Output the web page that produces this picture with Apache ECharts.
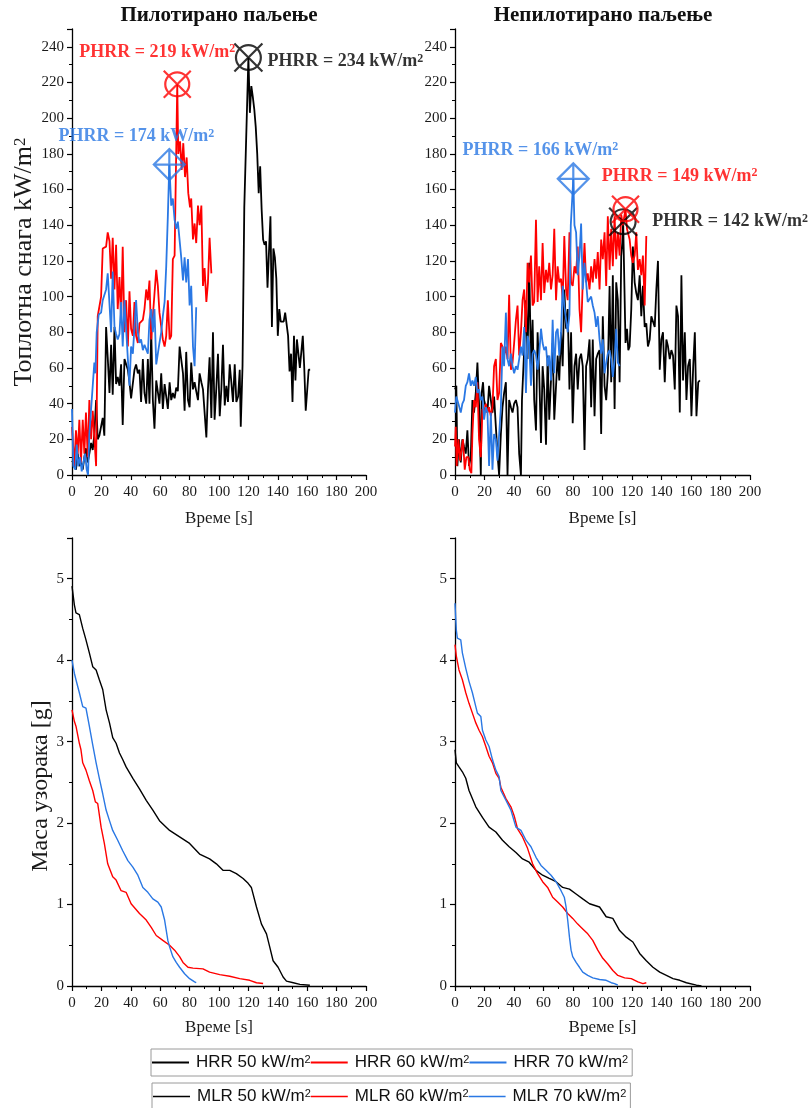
<!DOCTYPE html>
<html><head><meta charset="utf-8">
<script src="https://cdn.jsdelivr.net/npm/echarts@6/dist/echarts.min.js"></script>
<style>html,body{margin:0;padding:0;background:#fff}#c{width:810px;height:1108px}</style>
</head><body><div id="c"></div>
<script>
// ---------- DATA ----------
const panelTitles = ['Пилотирано паљење', 'Непилотирано паљење'];
const xAxisName = 'Време [s]';
const yNameHrr = 'Топлотна снага kW/m{s|2}';
const yNameMass = 'Маса узорака [g]';
const hrrNames = ['HRR 50 kW/m2', 'HRR 60 kW/m2', 'HRR 70 kW/m2'];
const mlrNames = ['MLR 50 kW/m2', 'MLR 60 kW/m2', 'MLR 70 kW/m2'];

// HRR, piloted ignition  [time s, kW/m2]
const hrr50Pilot = [[0,8],[1.6,6],[2.7,3],[3.9,12],[5,5],[6.1,7],[7.3,3],[8.4,10],[9.5,15],[10.7,7],[11.8,12],[13,18],[14.1,14],[15.2,23],[16.4,42],[17.5,20],[18.6,22],[19.8,23],[20.9,32],[22,22],[23.2,83],[24.3,66],[25.5,46],[26.6,73],[27.7,45],[28.9,83],[30,51],[31.1,55],[32.3,50],[33.4,62],[34.5,28],[35.7,65],[36.8,66],[38,59],[39.1,52],[40.2,43],[41.4,44],[42.5,59],[43.6,62],[44.8,57],[45.9,59],[47,41],[48.2,65],[49.3,46],[50.5,40],[51.6,65],[52.7,40],[53.9,80],[55,42],[56.1,26],[57.3,53],[58.4,54],[59.5,40],[60.7,57],[61.8,37],[63,51],[64.1,51],[65.2,37],[66.4,52],[67.5,42],[68.6,46],[69.8,43],[70.9,49],[72,47],[73.2,72],[74.3,71],[75.5,57],[76.6,36],[77.7,69],[78.9,42],[80,38],[81.1,63],[82.3,48],[83.4,52],[84.5,47],[85.7,42],[86.8,57],[88,52],[89.1,48],[90.2,47],[91.4,21],[92.5,48],[93.6,66],[94.8,32],[95.9,80],[97,31],[98.2,49],[99.3,68],[100.5,33],[101.6,48],[102.7,73],[103.9,39],[105,50],[106.1,41],[107.3,62],[108.4,52],[109.5,41],[110.7,62],[111.8,41],[113,44],[114.1,59],[114.8,27],[116,61],[117.2,150],[120,234],[121,203],[122,218],[123,212],[124,205],[125,195],[126,180],[127,158],[128,173],[129,149],[130,132],[131,129],[132,131],[133,105],[134,106],[135,145],[136,83],[137,127],[138,122],[139,110],[140,78],[141,93],[142,86],[144,86],[145,91],[147,78],[148,58],[149,68],[150,41],[151,78],[152,53],[153,76],[155,60],[156,61],[157,78],[158,60],[159,36],[161,59],[162,59]];
const hrr60Pilot = [[0,27],[1.6,5],[2.7,25],[3.9,12],[5,31],[6.1,7],[7.3,31],[8.4,12],[9.5,35],[10.7,10],[11.8,42],[13,20],[14.1,36],[15.2,35],[16.4,5],[17.5,89],[18.6,90],[19.8,100],[20.9,127],[22,127],[23.2,128],[24.3,136],[25.5,131],[26.6,110],[27.7,133],[28.9,104],[30,129],[31.1,93],[32.3,111],[33.4,87],[34.5,128],[35.7,80],[36.8,98],[38,72],[39.1,103],[40.2,82],[41.4,78],[42.5,97],[43.6,78],[44.8,74],[45.9,85],[47,85],[48.2,87],[49.3,93],[50.5,104],[51.6,98],[52.7,109],[53.9,76],[55,89],[56.1,88],[57.3,115],[58.4,106],[59.5,91],[60.7,91],[61.8,76],[63,72],[64.1,78],[65.2,98],[66.4,76],[67.5,78],[68.6,121],[69.8,123],[71.6,219],[72.3,180],[73.5,187],[74.6,171],[75.7,186],[76.9,167],[78,178],[79.1,158],[80.3,150],[81.1,155],[82.3,132],[83.4,141],[84.5,130],[85.7,151],[86.8,140],[88,151],[89.1,106],[90.2,116],[91.4,97],[92.5,108],[93.6,133],[94.8,113]];
const hrr70Pilot = [[0,37],[0.9,5],[2.3,3],[3.2,17],[4.3,5],[5.5,10],[6.6,2],[7.7,1],[8.9,12],[10,3],[10.9,0],[11.8,23],[13,37],[14.1,50],[15.2,63],[15.9,57],[16.8,80],[18.2,90],[19.8,91],[20.9,98],[22,97],[23.2,104],[24.3,113],[25.5,114],[26.6,80],[27.7,114],[28.9,83],[30,79],[31.1,76],[32.3,79],[33.4,97],[34.5,72],[35.7,98],[36.8,98],[38,65],[39.1,50],[40.2,72],[41.4,68],[42.5,83],[43.6,98],[44.8,80],[45.9,74],[47,76],[48.2,70],[49.3,73],[50.5,72],[51.6,68],[52.7,87],[53.9,93],[55,80],[56.1,93],[57.3,62],[58.4,61],[59.5,74],[60.7,80],[61.8,89],[63,97],[64.1,117],[65.2,145],[66.2,174],[67.5,151],[68.6,155],[69.8,143],[70.9,138],[72,142],[73.2,141],[74.3,122],[75.5,109],[76.6,122],[77.7,108],[78.9,121],[80,95],[81.1,106],[82.3,72],[83.4,61],[84.5,94]];

// HRR, non-piloted ignition
const hrr50Non = [[0,48],[0.9,50],[1.6,5],[2.7,20],[3.9,7],[5,20],[6.1,16],[7.3,12],[8.4,25],[9.5,5],[10.7,10],[11.8,42],[12.9,35],[14.1,46],[15.2,63],[16.3,40],[17.5,0],[18.1,46],[19,52],[19.7,42],[20.9,38],[22,35],[23.1,50],[24.3,42],[25.4,35],[26.5,44],[27.7,27],[28.8,12],[29.9,0],[31.1,23],[32.2,38],[33.3,46],[34.5,52],[35.6,0],[36.7,42],[37.9,38],[39,35],[40.1,40],[41.3,42],[42.4,38],[43.5,12],[44.7,0],[45.4,42],[46.9,70],[48.1,98],[49.2,65],[50.3,119],[51.5,61],[52.6,87],[53.7,42],[54.9,25],[56,80],[57.1,57],[58.3,18],[59.4,61],[60.5,48],[61.7,17],[62.8,67],[63.9,31],[65.1,31],[66.2,74],[67.3,31],[68.5,50],[69.6,67],[70.7,53],[71.9,80],[73,61],[74.1,104],[75.3,82],[76.4,93],[77.6,48],[78.7,80],[79.8,29],[81,61],[82.1,68],[83.2,48],[84.4,65],[85.5,68],[86.6,61],[87.8,14],[88.9,61],[90,65],[91.2,76],[92.3,38],[93.4,76],[94.6,33],[95.7,65],[96.8,68],[98,70],[99.1,23],[100.2,89],[101.4,50],[102.5,42],[103.6,57],[104.8,106],[105.9,52],[107,112],[108.2,37],[109.3,108],[110.4,98],[111.6,52],[112.7,123],[113.4,130],[114,142],[115.6,74],[116.6,82],[117.5,70],[118.4,72],[119.5,93],[120.6,128],[121.8,108],[122.9,102],[124,98],[125.2,112],[126.3,89],[127.4,106],[128.6,83],[129.7,85],[130.8,72],[132,76],[133.1,89],[134.2,89],[135.4,83],[136.5,104],[137.6,120],[138.8,59],[139.9,76],[141,80],[142.2,52],[143.3,76],[144.4,72],[145.6,65],[146.7,70],[147.8,67],[149,48],[150.1,95],[151.2,89],[152.4,35],[153.5,112],[154.6,53],[155.8,80],[156.9,42],[158,61],[159.2,65],[160.3,33],[161.5,61],[162.6,80],[163.7,33],[164.9,52],[166,53]];
const hrr60Non = [[0,16],[0.5,27],[1.1,5],[2.3,20],[3.4,8],[4.5,7],[5.4,20],[6.6,3],[7.7,10],[9.1,10],[10,3],[11.1,1],[11.8,23],[12.9,42],[14.1,38],[15.2,52],[16.3,20],[17.5,10],[18.6,37],[19.7,35],[20.9,40],[22,35],[23.1,38],[24.3,33],[25.4,38],[26.5,61],[27.7,65],[28.8,42],[29.9,46],[31.1,74],[32.2,72],[33.3,67],[34.5,72],[35.6,65],[36.7,101],[37.9,59],[39,63],[40.1,74],[41.3,87],[42.4,95],[43.5,67],[44.7,80],[45.8,98],[46.9,104],[48.1,80],[49.2,119],[50.3,108],[51.5,123],[52.6,95],[53.7,97],[54.9,143],[56,97],[57.1,117],[58.3,98],[59.4,130],[60.5,102],[61.7,115],[62.8,108],[63.9,119],[65.1,104],[66.2,112],[67.3,138],[68.5,98],[69.6,117],[70.7,108],[71.9,110],[73,98],[74.1,134],[75.3,104],[76.4,98],[77.6,136],[78.7,108],[79.8,106],[81,117],[82.1,113],[83.2,128],[84.4,93],[85.5,80],[86.6,108],[87.8,130],[88.9,108],[90,113],[91.2,104],[92.3,117],[93.4,108],[94.6,121],[95.7,110],[96.8,125],[98,104],[99.1,132],[100.2,121],[101.4,136],[102.5,106],[103.6,145],[104.8,115],[105.9,138],[107,117],[108.2,145],[109.3,121],[110.4,136],[111.6,123],[112.7,146],[113.8,140],[115.6,149],[116.6,138],[117.2,136],[118.4,132],[119.5,123],[120.6,119],[121.8,123],[122.9,136],[124,115],[125.2,121],[126.3,112],[127.4,123],[128.6,95],[129.7,134]];
const hrr70Non = [[0,35],[0.9,44],[2.3,40],[3.9,35],[5,40],[6.1,42],[7.3,50],[8.4,52],[9.5,57],[10.7,50],[11.8,53],[12.9,50],[14.1,55],[15.2,46],[16.3,48],[17.5,42],[18.6,44],[19.7,31],[20.9,38],[22,35],[23.1,5],[24.3,35],[25.4,3],[26.5,23],[27.7,20],[28.8,8],[29.9,7],[31.1,38],[32.2,72],[33.3,61],[34.5,91],[35.6,65],[36.7,61],[37.9,68],[39,61],[40.1,57],[41.3,61],[42.4,59],[43.5,65],[44.7,72],[45.8,67],[46.9,83],[48.1,46],[49.2,78],[50.3,74],[51.5,50],[52.6,68],[53.7,70],[54.9,67],[56,59],[57.1,68],[58.3,82],[59.4,74],[60.5,70],[61.7,72],[62.8,61],[63.9,67],[65.1,53],[66.2,87],[67.3,57],[68.5,80],[69.6,82],[70.7,67],[71.9,80],[73,106],[74.1,95],[75.3,87],[76.4,80],[77.6,90],[78.5,140],[80.2,166],[81,140],[82.1,136],[83.2,112],[84.4,123],[85.5,141],[86.6,104],[87.8,119],[88.9,108],[90,97],[91.2,97],[92.3,100],[93.4,95],[94.6,91],[95.7,83],[96.8,89],[98,76],[99.1,68],[100.2,76],[101.4,57],[102.5,63],[103.6,68],[104.8,70],[105.9,65],[107,55],[108.2,65],[109.3,82],[110.4,63],[111.6,61]];

// Sample mass, piloted ignition  [time s, g]
const mlr50Pilot = [[0,4.91],[1.6,4.68],[2.7,4.58],[5,4.56],[6.1,4.54],[7.3,4.39],[9.5,4.25],[11.8,4.09],[14.1,3.92],[16.4,3.88],[18.6,3.76],[20.9,3.64],[23.2,3.39],[25.5,3.23],[27.7,3.05],[30,2.98],[32.3,2.86],[34.5,2.78],[36.8,2.69],[39.1,2.62],[41.4,2.55],[45.9,2.42],[50.5,2.28],[55,2.16],[59.5,2.03],[66.4,1.91],[73.2,1.83],[80,1.75],[86.8,1.62],[93.6,1.56],[98.2,1.5],[102.7,1.42],[107.3,1.42],[111.8,1.38],[116.4,1.32],[119.8,1.26],[122,1.21],[125.5,0.97],[128.9,0.76],[132.3,0.64],[134.5,0.48],[136.8,0.31],[140.2,0.23],[143.6,0.11],[145.9,0.06],[150.5,0.04],[155,0.02],[161.8,0.01]];
const mlr60Pilot = [[0,3.39],[1.6,3.25],[2.7,3.19],[5,2.98],[6.1,2.9],[7.3,2.74],[9.5,2.65],[11.8,2.52],[14.1,2.4],[15.9,2.26],[17.5,2.24],[19.8,1.95],[22,1.75],[24.3,1.5],[27.7,1.34],[30,1.3],[33.4,1.17],[36.8,1.15],[40.2,1.01],[45.9,0.89],[50.5,0.81],[53.9,0.72],[57.3,0.62],[61.8,0.56],[66.4,0.5],[69.8,0.44],[73.2,0.36],[75.5,0.29],[78.9,0.23],[82.3,0.22],[89.1,0.21],[93.6,0.17],[100.5,0.14],[107.3,0.12],[114.1,0.09],[120.9,0.07],[125.5,0.04],[130,0.03]];
const mlr70Pilot = [[0,4.0],[1.6,3.84],[2.7,3.76],[3.9,3.76],[5,3.6],[6.1,3.58],[7.3,3.43],[9.5,3.41],[11.8,3.19],[14.1,2.96],[16.4,2.74],[18.6,2.55],[20.9,2.36],[23.2,2.16],[25.5,2.03],[27.7,1.91],[31.1,1.79],[34.5,1.66],[38,1.54],[41.4,1.46],[44.8,1.36],[48.2,1.21],[51.6,1.15],[55,1.07],[58.4,1.03],[60.7,0.97],[63,0.81],[65.2,0.56],[66.4,0.48],[68.6,0.36],[70.9,0.29],[73.2,0.23],[76.6,0.15],[80,0.09],[83.4,0.05],[84.5,0.04]];

// Sample mass, non-piloted ignition
const mlr50Non = [[0,2.9],[0.9,2.74],[2.7,2.69],[5,2.63],[7.3,2.55],[9.5,2.4],[14.1,2.2],[18.6,2.07],[23.1,1.95],[27.7,1.89],[32.2,1.79],[36.7,1.71],[41.3,1.64],[45.8,1.56],[50.3,1.52],[54.9,1.42],[59.4,1.36],[63.9,1.32],[68.5,1.28],[73,1.21],[77.6,1.19],[82.1,1.13],[86.6,1.07],[91.2,1.01],[98,0.97],[102.5,0.85],[107,0.83],[111.6,0.68],[116.1,0.6],[120.6,0.54],[125.2,0.4],[129.7,0.31],[134.2,0.23],[138.8,0.17],[143.3,0.13],[147.8,0.09],[152.4,0.07],[156.9,0.04],[163.7,0.01],[167.1,0]];
const mlr60Non = [[0,4.19],[0.9,4.05],[2.7,3.88],[5,3.76],[7.3,3.6],[9.5,3.47],[11.8,3.35],[14.1,3.23],[16.3,3.14],[18.6,3.06],[20.9,2.94],[23.1,2.82],[25.4,2.74],[27.7,2.61],[29.9,2.55],[31.1,2.44],[34.5,2.3],[37.9,2.2],[40.1,2.09],[42.4,1.93],[45.8,1.83],[49.2,1.69],[52.6,1.5],[56,1.38],[59.4,1.28],[62.8,1.21],[66.2,1.09],[69.6,1.03],[73,0.97],[76.4,0.89],[79.8,0.83],[83.2,0.76],[86.6,0.7],[90,0.64],[93.4,0.56],[96.8,0.44],[100.2,0.34],[103.6,0.27],[107,0.19],[110.4,0.13],[115,0.1],[119.5,0.09],[124,0.05],[127.4,0.03],[129.7,0.04]];
const mlr70Non = [[0,4.7],[0.9,4.37],[1.6,4.27],[3.9,4.25],[5,4.09],[7.3,3.9],[9.5,3.74],[11.8,3.6],[14.1,3.43],[15.2,3.35],[17.5,3.31],[18.6,3.14],[20.9,3.02],[23.1,2.94],[25.4,2.78],[27.7,2.65],[29.9,2.57],[31.1,2.4],[34.5,2.28],[37.9,2.16],[41.3,1.95],[44.7,1.91],[48.1,1.79],[51.5,1.71],[54.9,1.58],[58.3,1.48],[61.7,1.42],[65.1,1.36],[68.5,1.28],[71.9,1.17],[74.1,1.09],[75.3,0.97],[76.4,0.81],[77.6,0.6],[78.7,0.44],[79.8,0.36],[82.1,0.29],[84.4,0.23],[86.6,0.17],[90,0.13],[93.4,0.1],[98,0.08],[102.5,0.07],[105.9,0.04],[108.2,0.03],[110.4,0.01]];

// Peak HRR markers: order 50, 60, 70 kW/m2
const peakPilotT = [120, 71.6, 66.2];
const peakPilotV = [234, 219, 174];
const peakNonT = [114, 115.6, 80.2];
const peakNonV = [142, 149, 166];

// ---------- STYLE ----------
const SERIF = 'Liberation Serif';
const SANS = 'Liberation Sans';
const colors = ['#000000', '#ff0000', '#2a78e4'];
const CIRCLE_X = 'path://M-12,0A12,12,0,1,1,12,0A12,12,0,1,1,-12,0ZM-13.5,-13.5L13.5,13.5M13.5,-13.5L-13.5,13.5';
const DIAMOND_PLUS = 'path://M0,-15L15,0L0,15L-15,0ZM0,-15L0,15M-15,0L15,0';
const peakSymbols = [CIRCLE_X, CIRCLE_X, DIAMOND_PLUS];
const peakSizes = [[28, 28], [27, 27], [31, 31]];
const peakOffsets = [
  [[97, 4], [-20, -32], [-33, -28]],
  [[107, 0], [54, -33], [-33, -29]]
];

const grids = [
  {left: 72, top: 29, width: 294, height: 446},
  {left: 455, top: 29, width: 295, height: 446},
  {left: 72, top: 538, width: 294, height: 448},
  {left: 455, top: 538, width: 295, height: 448}
].map(g => Object.assign({outerBoundsMode: 'none', containLabel: false}, g));

function commonAxis() {
  return {
    axisLine: {show: true, lineStyle: {color: '#000', width: 1.3}},
    axisTick: {show: true, inside: false, length: 5, lineStyle: {color: '#000', width: 1.2}},
    minorTick: {show: true, splitNumber: 2, length: 3, lineStyle: {color: '#000', width: 1}},
    splitLine: {show: false},
    minorSplitLine: {show: false},
    axisLabel: {fontFamily: SERIF, fontSize: 15, color: '#1a1a1a', margin: 8}
  };
}

const xAxes = [0, 1, 2, 3].map(i => Object.assign(commonAxis(), {
  type: 'value', gridIndex: i, min: 0, max: 200, interval: 20,
  name: xAxisName, nameLocation: 'middle', nameGap: i < 2 ? 35 : 33,
  nameTextStyle: {fontFamily: SERIF, fontSize: 17, color: '#1a1a1a'}
}));
xAxes.forEach(a => { a.axisLabel.margin = 10; });

const yAxes = [0, 1, 2, 3].map(i => {
  const top = i < 2;
  const a = Object.assign(commonAxis(), {
    type: 'value', gridIndex: i, min: 0,
    max: top ? 250 : 5.5, interval: top ? 20 : 1
  });
  a.axisLabel.showMaxLabel = false;
  if (i === 0) {
    a.name = yNameHrr; a.nameLocation = 'middle'; a.nameGap = 34;
    a.nameTextStyle = {fontFamily: SERIF, fontSize: 26, color: '#1a1a1a', padding: [0, 20, 0, 0],
      rich: {s: {fontFamily: SERIF, fontSize: 17, verticalAlign: 'top', color: '#1a1a1a'}}};
  }
  if (i === 2) {
    a.name = yNameMass; a.nameLocation = 'middle'; a.nameGap = 16;
    a.nameTextStyle = {fontFamily: SERIF, fontSize: 24, color: '#1a1a1a', padding: [0, 48, 0, 0]};
  }
  return a;
});

const series = [];
function addLines(names, datasets, gi, width) {
  datasets.forEach((d, k) => {
    series.push({
      type: 'line', name: names[k], xAxisIndex: gi, yAxisIndex: gi, data: d,
      symbol: 'none', showSymbol: false, color: colors[k],
      lineStyle: {color: colors[k], width: width}, z: 2 + k,
      emphasis: {disabled: true}, silent: true
    });
  });
}
addLines(hrrNames, [hrr50Pilot, hrr60Pilot, hrr70Pilot], 0, 1.8);
addLines(hrrNames, [hrr50Non, hrr60Non, hrr70Non], 1, 1.8);
addLines(mlrNames, [mlr50Pilot, mlr60Pilot, mlr70Pilot], 2, 1.4);
addLines(mlrNames, [mlr50Non, mlr60Non, mlr70Non], 3, 1.4);

function addPeaks(ts, vs, gi) {
  ts.forEach((t, k) => {
    series.push({
      type: 'scatter', xAxisIndex: gi, yAxisIndex: gi, data: [[t, vs[k]]],
      symbol: peakSymbols[k], symbolSize: peakSizes[k], z: 10,
      itemStyle: {color: 'transparent', borderColor: colors[k], borderWidth: 2.2},
      label: {
        show: true, position: 'inside', offset: peakOffsets[gi][k],
        formatter: p => 'PHRR = ' + p.value[1] + ' kW/m{s|2}',
        fontFamily: SERIF, fontWeight: 'bold', fontSize: 18, color: colors[k],
        rich: {s: {fontFamily: SERIF, fontWeight: 'bold', fontSize: 12, verticalAlign: 'top', color: colors[k]}}
      },
      emphasis: {disabled: true}, silent: true
    });
  });
}
addPeaks(peakPilotT, peakPilotV, 0);
addPeaks(peakNonT, peakNonV, 1);

function legendCfg(names, top, left, lineH) {
  return {
    data: names, left: left, top: top, orient: 'horizontal',
    icon: 'rect', itemWidth: 37, itemHeight: lineH, itemGap: 0,
    padding: [5, 4, 5, 1], borderColor: '#9a9a9a', borderWidth: 1,
    selectedMode: false,
    formatter: n => n.replace(/m2$/, 'm{s|2}'),
    textStyle: {fontFamily: SANS, fontSize: 17, color: '#111', padding: [0, 0, 0, 2],
      rich: {s: {fontFamily: SANS, fontSize: 11, verticalAlign: 'top', color: '#111'}}}
  };
}

const option = {
  animation: false,
  backgroundColor: '#fff',
  title: [
    {text: panelTitles[0], left: 219, top: 5, textAlign: 'center', padding: 0,
     textStyle: {fontFamily: SERIF, fontWeight: 'bold', fontSize: 21, color: '#111'}},
    {text: panelTitles[1], left: 603, top: 5, textAlign: 'center', padding: 0,
     textStyle: {fontFamily: SERIF, fontWeight: 'bold', fontSize: 21, color: '#111'}}
  ],
  legend: [legendCfg(hrrNames, 1049, 151, 2), legendCfg(mlrNames, 1083, 152, 1.3)],
  grid: grids,
  xAxis: xAxes,
  yAxis: yAxes,
  series: series
};

const chart = echarts.init(document.getElementById('c'), null, {renderer: 'canvas'});
chart.setOption(option);
</script>
</body></html>
